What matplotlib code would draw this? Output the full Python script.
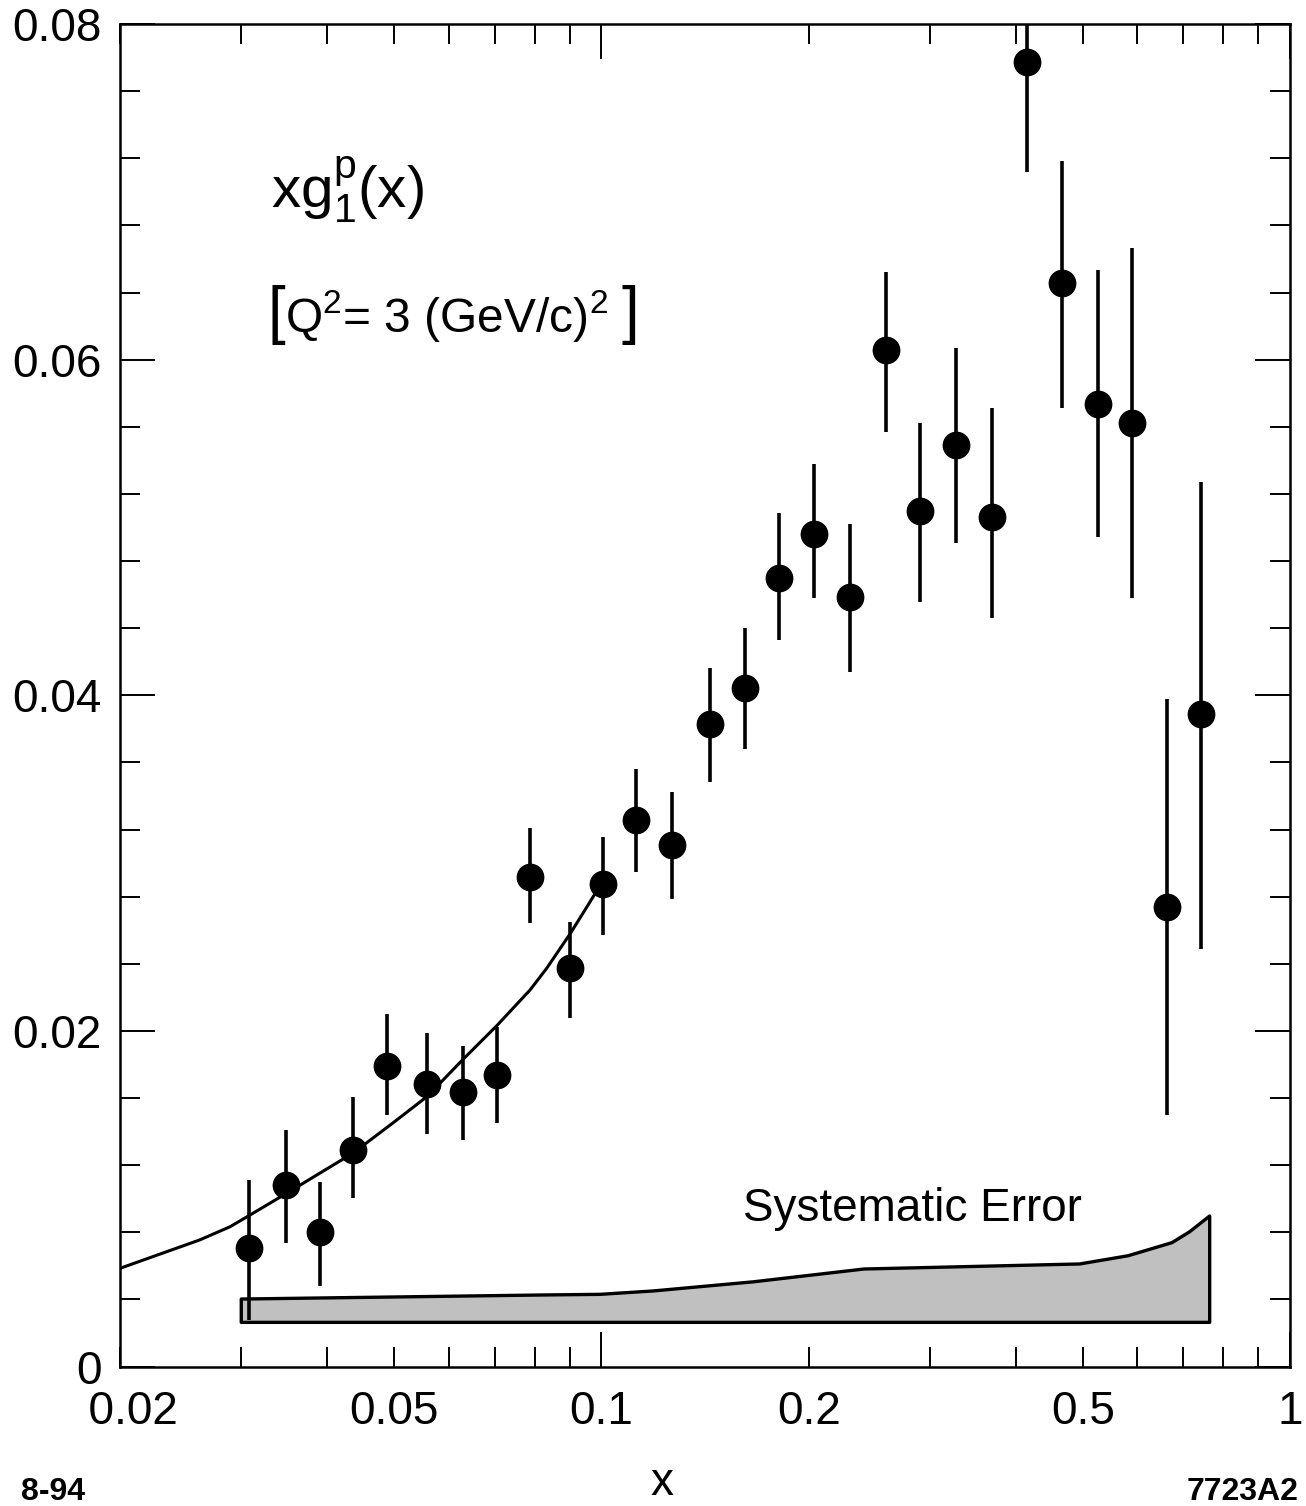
import matplotlib
matplotlib.use("Agg")
import matplotlib.pyplot as plt
import numpy as np
from matplotlib.ticker import FixedLocator, FuncFormatter

plt.rcParams['font.family'] = ['Liberation Sans', 'DejaVu Sans']
plt.rcParams['mathtext.fontset'] = 'custom'
plt.rcParams['mathtext.rm'] = 'Liberation Sans'
plt.rcParams['mathtext.it'] = 'Liberation Sans'
plt.rcParams['mathtext.bf'] = 'Liberation Sans:bold'

# ---- data points: x, value, lower and upper ends of the error bars ----
x_data = [0.0308, 0.0348, 0.0390, 0.0436, 0.0489, 0.0558, 0.0630, 0.0706,
          0.0787, 0.0900, 0.1006, 0.1122, 0.1268, 0.1440, 0.1617, 0.1812,
          0.2036, 0.2295, 0.2591, 0.2906, 0.3274, 0.3698, 0.4148, 0.4672,
          0.5264, 0.5904, 0.6624, 0.7428]
y_data = [0.00704, 0.01082, 0.00803, 0.01290, 0.01793, 0.01682, 0.01634, 0.01737,
          0.02917, 0.02373, 0.02877, 0.03255, 0.03106, 0.03829, 0.04042, 0.04697,
          0.04963, 0.04588, 0.06058, 0.05098, 0.05492, 0.05064, 0.07776, 0.06455,
          0.05738, 0.05621, 0.02736, 0.03890]
y_low = [0.00277, 0.00738, 0.00482, 0.01002, 0.01501, 0.01384, 0.01352, 0.01451,
         0.02641, 0.02075, 0.02572, 0.02945, 0.02784, 0.03485, 0.03678, 0.04330,
         0.04578, 0.04139, 0.05571, 0.04558, 0.04909, 0.04463, 0.07120, 0.05710,
         0.04942, 0.04577, 0.01499, 0.02489]
y_high = [0.01111, 0.01409, 0.01101, 0.01606, 0.02099, 0.01988, 0.01912, 0.02023,
          0.03207, 0.02651, 0.03154, 0.03561, 0.03422, 0.04165, 0.04399, 0.05085,
          0.05377, 0.05021, 0.06524, 0.05621, 0.06068, 0.05710, 0.08432, 0.07186,
          0.06535, 0.06664, 0.03979, 0.05269]

# ---- fit curve ----
curve_x = [0.0200, 0.0261, 0.0289, 0.0309, 0.0349, 0.0436, 0.0498, 0.0558, 0.0583,
           0.0630, 0.0705, 0.0788, 0.0833, 0.0901, 0.0942, 0.0979, 0.1000]
curve_y = [0.00585, 0.00754, 0.00833, 0.00903, 0.01032, 0.01272, 0.01451, 0.01608, 0.01688,
           0.01831, 0.02031, 0.02244, 0.02373, 0.02579, 0.02706, 0.02817, 0.02876]

# ---- systematic error band ----
band_x = [0.0300, 0.0816, 0.0996, 0.1188, 0.1666, 0.2407, 0.4950, 0.5820,
          0.6740, 0.7150, 0.7645]
band_top = [0.00402, 0.00426, 0.00430, 0.00450, 0.00505, 0.00581, 0.00611, 0.00660,
            0.00738, 0.00803, 0.00897]
band_bottom = 0.00263

y_ticks = [0.0, 0.02, 0.04, 0.06, 0.08]
y_tick_labels = ['0', '0.02', '0.04', '0.06', '0.08']
x_major = [0.1, 1.0]
x_minor = [0.02, 0.03, 0.04, 0.05, 0.06, 0.07, 0.08, 0.09,
           0.2, 0.3, 0.4, 0.5, 0.6, 0.7, 0.8, 0.9]
x_labels = {0.02: '  0.02', 0.05: '0.05', 0.1: '0.1', 0.2: '0.2', 0.5: '0.5', 1.0: '1'}

W, H = 1306, 1506
fig = plt.figure(figsize=(W / 100, H / 100), dpi=100)
ax = fig.add_axes([120 / W, 1 - 1366.5 / H, 1170 / W, 1342.5 / H])

ax.set_xscale('log')
ax.set_xlim(0.02, 1.0)
ax.set_ylim(0.0, 0.08)

# band
bx = np.array(band_x)
bt = np.array(band_top)
poly_x = np.concatenate([bx, bx[::-1]])
poly_y = np.concatenate([bt, np.full(len(bx), band_bottom)])
ax.fill(poly_x, poly_y, facecolor='#c0c0c0', edgecolor='black', linewidth=2.4,
        joinstyle='round', zorder=2)

# curve
ax.plot(curve_x, curve_y, color='black', linewidth=2.2, solid_joinstyle='round', zorder=3)

# data
yd = np.array(y_data)
yerr = [yd - np.array(y_low), np.array(y_high) - yd]
ax.errorbar(x_data, y_data, yerr=yerr, fmt='o', color='black', markersize=19,
            elinewidth=2.6, capsize=0, zorder=4)

# spines / ticks
for s in ax.spines.values():
    s.set_linewidth(1.8)

ax.xaxis.set_major_locator(FixedLocator(x_major))
ax.xaxis.set_minor_locator(FixedLocator(x_minor))


def xfmt(v, pos):
    for k, lab in x_labels.items():
        if abs(v - k) < 1e-9:
            return lab
    return ''


ax.xaxis.set_major_formatter(FuncFormatter(xfmt))
ax.xaxis.set_minor_formatter(FuncFormatter(xfmt))

ax.set_yticks(y_ticks)
ax.set_yticklabels(y_tick_labels)
ax.yaxis.set_minor_locator(FixedLocator(np.arange(0.004, 0.08, 0.004)))

ax.tick_params(which='both', direction='in', top=True, right=True, width=1.4,
               labelsize=33)
ax.tick_params(which='major', length=25)
ax.tick_params(which='minor', length=14.4)
ax.tick_params(axis='x', which='both', pad=17)
ax.tick_params(axis='y', which='both', pad=13)

# labels
ax.set_xlabel('x', fontsize=33)
ax.xaxis.set_label_coords((662 - 120) / 1170, (1366.5 - 1495) / 1342.5)
ax.xaxis.label.set_va('baseline')


def fx(px):
    return px / W


def fy(py):
    return 1 - py / H


fig.text(fx(271), fy(208), r'$\mathrm{xg}_{1}^{\mathrm{p}}\mathrm{(x)}$', fontsize=42,
         va='baseline', ha='left')
fig.text(fx(268), fy(332), '[', fontsize=46, va='baseline', ha='left')
fig.text(fx(285), fy(332), r'Q$^{2}$= 3 (GeV/c)$^{2}$', fontsize=34.5,
         va='baseline', ha='left')
fig.text(fx(621), fy(332), ']', fontsize=46, va='baseline', ha='left')
fig.text(fx(743), fy(1221), 'Systematic Error', fontsize=33, va='baseline', ha='left')

fig.text(fx(21), fy(1500), '8-94', fontsize=23, fontweight='bold', va='baseline', ha='left')
fig.text(fx(1299), fy(1500), '7723A2', fontsize=23, fontweight='bold', va='baseline',
         ha='right')

fig.savefig('out.png', dpi=100, facecolor='white')
